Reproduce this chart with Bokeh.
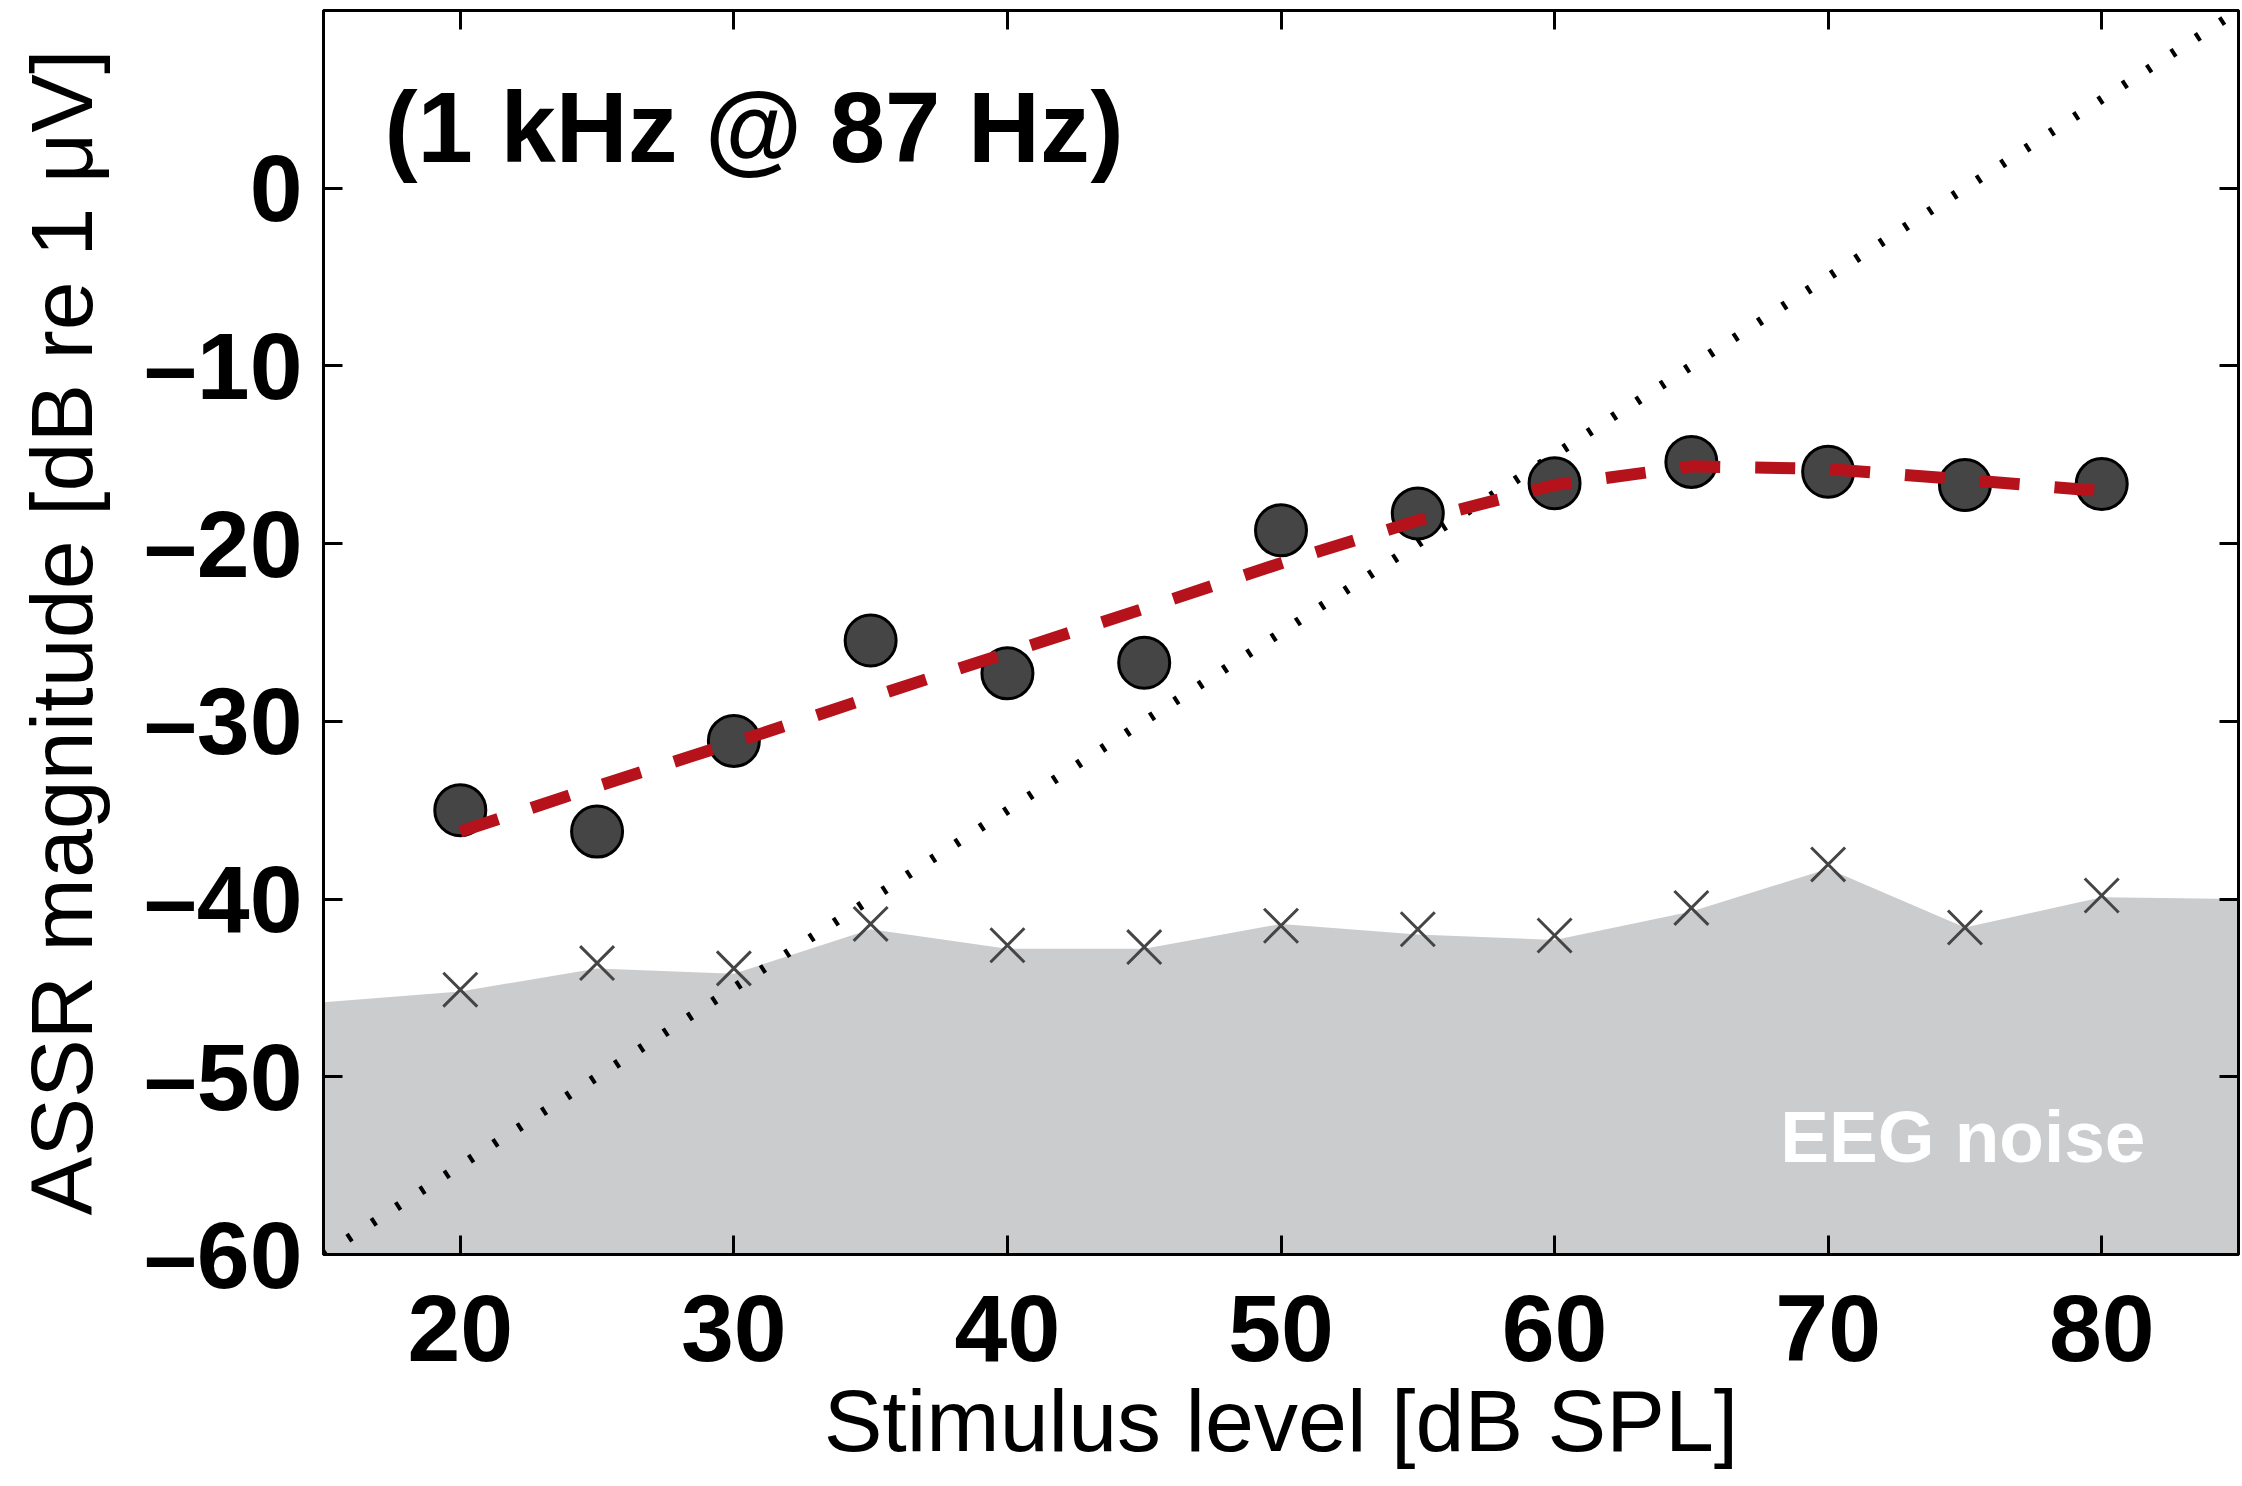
from bokeh.plotting import figure
from bokeh.models import LinearAxis, Range1d, FixedTicker, CustomJSTickFormatter, Label
from bokeh.core.properties import value
from bokeh.embed import file_html
from bokeh.resources import INLINE

# ---- data ----
levels = [20, 25, 30, 35, 40, 45, 50, 55, 60, 65, 70, 75, 80]
assr_mag = [-35.0, -36.2, -31.1, -25.45, -27.3, -26.7, -19.25, -18.3, -16.6, -15.4, -15.95, -16.7, -16.65]
fit_mag = [-36.2, -33.65, -31.2, -28.65, -26.15, -23.65, -21.1, -18.7, -16.7, -15.65, -15.8, -16.4, -17.05]
noise_mag = [-45.1, -43.6, -43.9, -41.4, -42.6, -42.7, -41.5, -41.7, -42.05, -40.5, -38.05, -41.6, -39.8]
floor_x = [15, 20, 25, 30, 35, 40, 45, 50, 55, 60, 65, 70, 75, 80, 85]
floor_y = [-45.8, -45.2, -43.9, -44.2, -41.7, -42.8, -42.8, -41.4, -42.0, -42.3, -40.7, -38.3, -41.6, -39.9, -40.0]
ref_x = [15, 85]
ref_y = [-60, 10]
x_ticks = [20, 30, 40, 50, 60, 70, 80]
y_ticks = [-60, -50, -40, -30, -20, -10, 0]
x_lim = (15, 85)
y_lim = (-60, 10)
title_parts = ["1 kHz @ 87 Hz", ")", "("]
noise_text = "EEG noise"

FONT = "Liberation Sans"

p = figure(width=2242, height=1486,
           x_range=Range1d(*x_lim), y_range=Range1d(*y_lim),
           output_backend="svg", toolbar_location=None,
           min_border_left=323, min_border_right=4, min_border_top=10, min_border_bottom=232,
           background_fill_color="white", border_fill_color="white",
           outline_line_color="black", outline_line_width=3)
p.xgrid.visible = False
p.ygrid.visible = False

minus_fmt = CustomJSTickFormatter(code="return tick < 0 ? '\u2013' + Math.abs(tick) : String(tick);")

def style_axis(ax, ticks):
    ax.ticker = FixedTicker(ticks=ticks)
    ax.major_tick_in = 19
    ax.major_tick_out = 0
    ax.minor_tick_line_color = None
    ax.major_tick_line_width = 3
    ax.major_tick_line_color = "black"
    ax.axis_line_width = 3
    ax.axis_line_color = "black"

style_axis(p.xaxis[0], x_ticks)
style_axis(p.yaxis[0], y_ticks)
for ax in (p.xaxis[0], p.yaxis[0]):
    ax.formatter = minus_fmt
    ax.major_label_text_font = FONT
    ax.major_label_text_font_style = "bold"
    ax.major_label_text_font_size = "95px"
    ax.major_label_text_color = "black"
    ax.axis_label_text_font = FONT
    ax.axis_label_text_font_style = "normal"
    ax.axis_label_text_font_size = "88px"
    ax.axis_label_text_color = "black"

p.xaxis[0].axis_label = "Stimulus level [dB SPL]"
p.xaxis[0].major_label_standoff = 40
p.xaxis[0].axis_label_standoff = 7
p.yaxis[0].axis_label = "ASSR magnitude [dB re 1 \u03bcV]"
p.yaxis[0].major_label_standoff = 21
p.yaxis[0].axis_label_standoff = 30

top = LinearAxis()
style_axis(top, x_ticks)
top.major_label_standoff = 0
top.major_label_text_font_size = "1px"
top.major_label_text_alpha = 0
p.add_layout(top, "above")
right = LinearAxis()
style_axis(right, y_ticks)
right.major_label_standoff = 0
right.major_label_text_font_size = "1px"
right.major_label_text_alpha = 0
p.add_layout(right, "right")

# ---- glyphs ----
floor_base = [y_lim[0]] * len(floor_x)
p.varea(x=floor_x, y1=floor_base, y2=floor_y, fill_color="#CBCCCE")
p.text(x=[68.25], y=[-53.37], text=[noise_text], text_font=value(FONT),
       text_font_style="bold", text_font_size="73px", text_color="white",
       text_align="left", text_baseline="alphabetic")
p.line(ref_x, ref_y, line_color="black", line_width=9, line_dash="4 25", line_cap="butt")
p.scatter(levels, noise_mag, marker="x", size=48, line_color="#454545", line_width=3)
p.scatter(levels, assr_mag, marker="circle", size=51, fill_color="#454545",
          line_color="black", line_width=3)
p.line(levels, fit_mag, line_color="#B5121B", line_width=12, line_dash="40 35", line_cap="butt")

# title drawn in pieces (offsets from Liberation Sans Bold advance widths at 99.5px)
title_offsets = [33, 706, 0]
for part, off in zip(title_parts, title_offsets):
    p.add_layout(Label(x=17.23, y=3.4, x_offset=off, text=part, text_font=FONT,
                       text_font_style="bold", text_font_size="99.5px", text_color="black",
                       text_align="left", text_baseline="alphabetic"))

open("out.html", "w").write(file_html(p, INLINE))
